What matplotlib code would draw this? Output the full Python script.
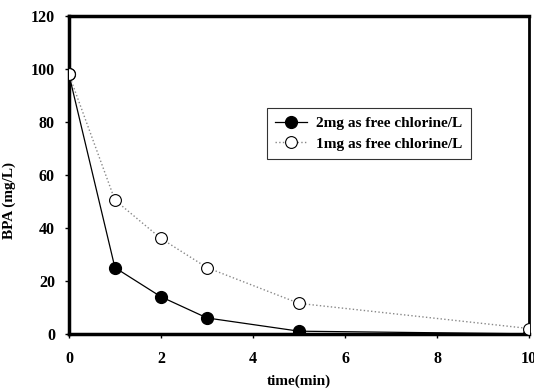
import numpy as np
import matplotlib
matplotlib.use("Agg")
import matplotlib.pyplot as plt

# BPA decay under two chlorine doses
time_min = [0, 1, 2, 3, 5, 10]
bpa_2mg = [98, 25, 14, 6, 1, 0]
bpa_1mg = [98, 50.5, 36, 25, 11.5, 2]

labels = ["2mg as free chlorine/L", "1mg as free chlorine/L"]
xticks = [0, 2, 4, 6, 8, 10]
yticks = [0, 20, 40, 60, 80, 100, 120]

plt.rcParams['font.family'] = ['Liberation Serif', 'DejaVu Serif']
plt.rcParams['font.weight'] = 'bold'

fig = plt.figure(figsize=(5.34, 3.9), dpi=100)
ax = fig.add_axes([0.129, 0.144, 0.862, 0.815])

ax.plot(time_min, bpa_2mg, '-', color='black', lw=0.9, marker='o',
        ms=8.5, mfc='black', mec='black', label=labels[0], zorder=3)
ax.plot(time_min, bpa_1mg, ':', color='#888888', lw=1.0, marker='o',
        ms=8.5, mfc='white', mec='black', mew=0.8, label=labels[1], zorder=4)

ax.set_xlim(0, 10)
ax.set_ylim(0, 120)
ax.set_xticks(xticks)
ax.set_yticks(yticks)
ax.tick_params(direction='out', length=3, width=1, labelsize=11.5)
ax.tick_params(axis='x', pad=9)
ax.tick_params(axis='y', pad=7)
for lab in ax.get_xticklabels() + ax.get_yticklabels():
    lab.set_fontweight('bold')

for side in ['left', 'bottom', 'top']:
    ax.spines[side].set_linewidth(2.5)
ax.spines['right'].set_linewidth(2)

ax.set_xlabel("time(min)", fontsize=11, fontweight='bold', labelpad=6)
ax.set_ylabel("BPA (mg/L)", fontsize=11, fontweight='bold')
ax.yaxis.set_label_coords(-0.115, 0.42)

leg = ax.legend(loc='upper left', bbox_to_anchor=(0.43, 0.71),
                borderaxespad=0, frameon=True, fancybox=False,
                edgecolor='black', handlelength=2.1, handletextpad=0.6,
                borderpad=0.55, labelspacing=0.45,
                prop={'weight': 'bold', 'size': 11})
leg.get_frame().set_linewidth(0.8)

fig.savefig("out.png", dpi=100)
